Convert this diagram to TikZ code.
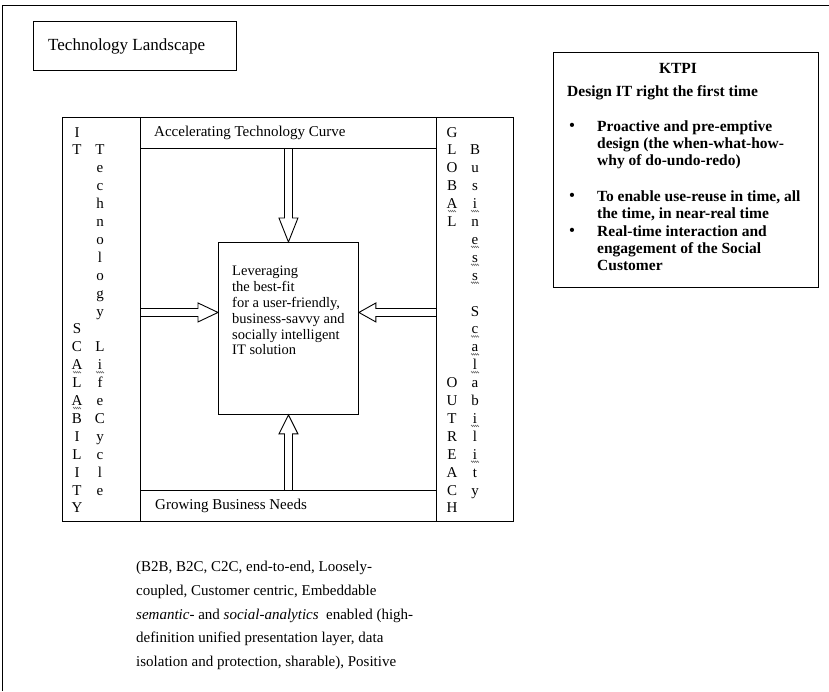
\documentclass[tikz,border=0pt]{standalone}
\usepackage{fontspec}
\setmainfont{Liberation Serif}
\usetikzlibrary{calc,decorations.pathmorphing}

\begin{document}
\begin{tikzpicture}[x=1pt,y=-1pt,
  box/.style={draw,line width=0.9pt,inner sep=0pt},
  txt/.style={font=\fontsize{15}{17}\selectfont,inner sep=0pt},
  ltr/.style={font=\fontsize{15}{17}\selectfont,inner sep=0pt,anchor=base},
  kt/.style={font=\fontsize{15.5}{17}\selectfont\bfseries,inner sep=0pt,align=left},
  squiggle/.style={draw=black!55,line width=0.5pt,decorate,decoration={zigzag,amplitude=0.8pt,segment length=2pt}}]
\useasboundingbox (0,0) rectangle (829,691);
\draw[line width=0.9pt] (2,691) -- (2,5) -- (829,5);
\node[box,anchor=north west,minimum width=203pt,minimum height=49pt] (landscape) at (33,21) {};
\node[txt,anchor=west,font=\fontsize{17}{20}\selectfont] (landtext) at ($(landscape.west)+(15,0)$) {Technology Landscape};
% frame
\node[box,anchor=north west,minimum width=78pt,minimum height=404pt] (leftcol) at (62,117) {};
\node[box,anchor=north west,minimum width=296pt,minimum height=404pt] (midframe) at (140,117) {};
\node[box,anchor=north west,minimum width=77pt,minimum height=404pt] (rightcol) at (436,117) {};
\node[box,anchor=north west,minimum width=296pt,minimum height=31pt] (curve) at (140,117) {};
\node[box,anchor=north west,minimum width=296pt,minimum height=31pt] (needs) at (140,490) {};
\node[txt,anchor=west] (curvetext) at ($(curve.west)+(14,0)$) {Accelerating Technology Curve};
\node[txt,anchor=west] (needstext) at ($(needs.west)+(15,0)$) {Growing Business Needs};
\node[box,anchor=north west,minimum width=140pt,minimum height=172pt] (solution) at (218,242) {};
\node[txt,anchor=north west,align=left,font=\fontsize{14.5}{15.8}\selectfont] (soltext) at (232,266)
  {Leveraging\\the best-fit\\for a user-friendly,\\business-savvy and\\socially intelligent\\IT solution};
% vertical letters
\foreach \ch [count=\i from 0] in {I,T} \node[ltr] (ita\i) at (77,{137+\i*17.9}) {\ch};
\foreach \ch [count=\i from 11] in {S,C,A,L,A,B,I,L,I,T,Y} \node[ltr] (sca\i) at (77,{137+\i*17.9}) {\ch};
\foreach \ch [count=\i from 1] in {T,e,c,h,n,o,l,o,g,y} \node[ltr] (tec\i) at (100,{137+\i*17.9}) {\ch};
\foreach \ch [count=\i from 12] in {L,i,f,e,C,y,c,l,e} \node[ltr] (lif\i) at (100,{137+\i*17.9}) {\ch};
\foreach \ch [count=\i from 0] in {G,L,O,B,A,L} \node[ltr] (glo\i) at (452,{137+\i*17.9}) {\ch};
\foreach \ch [count=\i from 14] in {O,U,T,R,E,A,C,H} \node[ltr] (out\i) at (452,{137+\i*17.9}) {\ch};
\foreach \ch [count=\i from 1] in {B,u,s,i,n,e,s,s} \node[ltr] (bus\i) at (475,{137+\i*17.9}) {\ch};
\foreach \ch [count=\i from 10] in {S,c,a,l,a,b,i,l,i,t,y} \node[ltr] (scb\i) at (475,{137+\i*17.9}) {\ch};
% spell-check marks
\foreach \n in {sca13,sca15,lif13,glo4,bus4,bus6,bus7,bus8,scb11,scb12,scb13,scb16,scb18}
  \path[squiggle] ($(\n.base)+(-4,2.5)$) -- ($(\n.base)+(4,2.5)$);
% hollow arrows
\coordinate (ltip) at ($(solution.west)+(0,-16)$);
\coordinate (rtip) at ($(solution.east)+(0,-16)$);
\draw[line width=0.9pt] ($(curve.south)+(-4,0)$) -- ($(solution.north)+(-4,-24)$) -- ($(solution.north)+(-9.5,-24)$)
  -- (solution.north) -- ($(solution.north)+(9.5,-24)$) -- ($(solution.north)+(4,-24)$) -- ($(curve.south)+(4,0)$);
\draw[line width=0.9pt] ($(needs.north)+(-4,0)$) -- ($(solution.south)+(-4,19)$) -- ($(solution.south)+(-9.5,19)$)
  -- (solution.south) -- ($(solution.south)+(9.5,19)$) -- ($(solution.south)+(4,19)$) -- ($(needs.north)+(4,0)$);
\draw[line width=0.9pt] ($(ltip -| midframe.west)+(0,-4)$) -- ($(ltip)+(-20,-4)$) -- ($(ltip)+(-20,-9.5)$)
  -- (ltip) -- ($(ltip)+(-20,9.5)$) -- ($(ltip)+(-20,4)$) -- ($(ltip -| midframe.west)+(0,4)$);
\draw[line width=0.9pt] ($(rtip -| midframe.east)+(0,-4)$) -- ($(rtip)+(17,-4)$) -- ($(rtip)+(17,-9.5)$)
  -- (rtip) -- ($(rtip)+(17,9.5)$) -- ($(rtip)+(17,4)$) -- ($(rtip -| midframe.east)+(0,4)$);
% KTPI
\node[box,anchor=north west,minimum width=265pt,minimum height=235pt] (ktpi) at (553,52) {};
\node[kt] (ktpihead) at (678,68) {KTPI};
\node[kt,anchor=west] (design) at (567,93) {Design IT right the first time};
\node[kt] (bul1) at (572,127) {\textbullet};
\node[kt] (bul2) at (572,197) {\textbullet};
\node[kt] (bul3) at (572,232) {\textbullet};
\node[kt,anchor=north west] (item1) at (597,121) {Proactive and pre-emptive\\design (the when-what-how-\\why of do-undo-redo)};
\node[kt,anchor=north west] (item2) at (597,191) {To enable use-reuse in time, all\\the time, in near-real time};
\node[kt,anchor=north west] (item3) at (597,226) {Real-time interaction and\\engagement of the Social\\Customer};
% notes below
\node[txt,anchor=north west,align=left,font=\fontsize{15}{23.75}\selectfont] (notes) at (136,561)
  {(B2B, B2C, C2C, end-to-end, Loosely-\\coupled, Customer centric, Embeddable\\\textit{semantic}- and \textit{social-analytics}\ \ enabled (high-\\definition unified presentation layer, data\\isolation and protection, sharable), Positive};
\end{tikzpicture}
\end{document}
